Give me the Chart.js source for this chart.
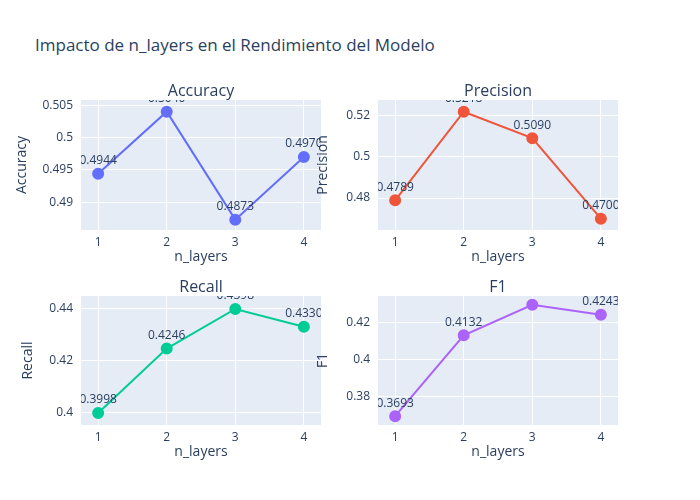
<!DOCTYPE html>
<html>
<head>
<meta charset="utf-8">
<script src="https://cdn.jsdelivr.net/npm/chart.js@4"></script>
<style>
  body { margin: 0; background: #fff; }
  #wrap { position: relative; width: 700px; height: 500px; }
  #wrap canvas { position: absolute; left: 0; top: 0; }
  #title { position: absolute; left: 35px; top: 33px; font: 17px "Open Sans", sans-serif; color: #2a3f5f; }
</style>
</head>
<body>
<div id="wrap">
  <div id="title">Impacto de n_layers en el Rendimiento del Modelo</div>
  <canvas id="c0" width="700" height="500"></canvas>
  <canvas id="c1" width="700" height="500"></canvas>
  <canvas id="c2" width="700" height="500"></canvas>
  <canvas id="c3" width="700" height="500"></canvas>
</div>
<script>
const layers = [1, 2, 3, 4];
const accuracy = [0.4944, 0.5040, 0.4873, 0.4970];
const precision = [0.4789, 0.5218, 0.5090, 0.4700];
const recall = [0.3998, 0.4246, 0.4398, 0.4330];
const f1 = [0.3693, 0.4132, 0.4297, 0.4243];

const panels = [
    { id: 'c0', name: 'Accuracy', data: accuracy, color: '#636efa', box: [81, 100, 321, 230], y: [0.4857, 0.5058], step: 0.005, yTitleX: 22 },
    { id: 'c1', name: 'Precision', data: precision, color: '#EF553B', box: [378, 100, 618, 230], y: [0.4645, 0.5275], step: 0.02, yTitleX: 323 },
    { id: 'c2', name: 'Recall', data: recall, color: '#00cc96', box: [81, 296, 321, 425], y: [0.3952, 0.4448], step: 0.02, yTitleX: 28 },
    { id: 'c3', name: 'F1', data: f1, color: '#ab63fa', box: [378, 296, 618, 425], y: [0.3645, 0.4345], step: 0.02, yTitleX: 323 }
];

const font = '"Open Sans", sans-serif';
const textColor = '#2a3f5f';

const decorPlugin = {
    id: 'decor',
    beforeDraw(chart) {
        const { ctx, chartArea: a } = chart;
        ctx.save();
        ctx.fillStyle = '#E5ECF6';
        ctx.fillRect(a.left, a.top, a.right - a.left, a.bottom - a.top);
        ctx.restore();
    },
    afterDraw(chart, args, opts) {
        const { ctx, chartArea: a, scales } = chart;
        const meta = chart.getDatasetMeta(0);
        ctx.save();
        // point labels, clipped to plot area like plotly
        ctx.beginPath();
        ctx.rect(a.left, a.top, a.right - a.left, a.bottom - a.top);
        ctx.clip();
        ctx.fillStyle = textColor;
        ctx.font = '12px ' + font;
        ctx.textAlign = 'center';
        ctx.textBaseline = 'bottom';
        meta.data.forEach((pt, i) => {
            ctx.fillText(opts.values[i].toFixed(4), pt.x, pt.y - 7);
        });
        ctx.restore();

        ctx.save();
        ctx.fillStyle = textColor;
        ctx.font = '12px ' + font;
        // tick labels
        ctx.textAlign = 'right';
        ctx.textBaseline = 'middle';
        scales.y.ticks.forEach(t => {
            ctx.fillText(String(+t.value.toFixed(4)), a.left - 8, scales.y.getPixelForValue(t.value));
        });
        ctx.textAlign = 'center';
        ctx.textBaseline = 'top';
        scales.x.ticks.forEach(t => {
            ctx.fillText(String(t.value), scales.x.getPixelForValue(t.value), a.bottom + 7);
        });
        ctx.textBaseline = 'alphabetic';
        ctx.font = '16px ' + font;
        ctx.fillText(opts.name, (a.left + a.right) / 2, a.top - 4);
        ctx.font = '14px ' + font;
        ctx.fillText('n_layers', (a.left + a.right) / 2, a.bottom + 31);
        ctx.translate(opts.yTitleX, (a.top + a.bottom) / 2);
        ctx.rotate(-Math.PI / 2);
        ctx.textBaseline = 'middle';
        ctx.fillText(opts.name, 0, 0);
        ctx.restore();
    }
};

panels.forEach(p => {
    const [l, t, r, b] = p.box;
    new Chart(document.getElementById(p.id), {
        type: 'line',
        data: {
            datasets: [{
                data: layers.map((x, i) => ({ x: x, y: p.data[i] })),
                borderColor: p.color,
                backgroundColor: p.color,
                borderWidth: 2,
                pointRadius: 5,
                pointHoverRadius: 5,
                tension: 0
            }]
        },
        options: {
            responsive: false,
            animation: false,
            events: [],
            layout: { padding: { left: l, top: t, right: 700 - r, bottom: 500 - b } },
            plugins: {
                legend: { display: false },
                tooltip: { enabled: false },
                decor: { name: p.name, values: p.data, yTitleX: p.yTitleX }
            },
            scales: {
                x: {
                    type: 'linear',
                    min: 0.75, max: 4.25,
                    afterFit: s => { s.height = 0; },
                    afterBuildTicks: s => { s.ticks = layers.map(v => ({ value: v })); },
                    grid: { color: '#fff', lineWidth: 1, drawTicks: false },
                    border: { display: false },
                    ticks: { display: false }
                },
                y: {
                    min: p.y[0], max: p.y[1],
                    afterFit: s => { s.width = 0; },
                    afterBuildTicks: s => {
                        const ticks = [];
                        const start = Math.ceil(p.y[0] / p.step - 1e-9);
                        for (let k = start; k * p.step <= p.y[1]; k++) ticks.push({ value: +(k * p.step).toFixed(4) });
                        s.ticks = ticks;
                    },
                    grid: { color: '#fff', lineWidth: 1, drawTicks: false },
                    border: { display: false },
                    ticks: { display: false }
                }
            }
        },
        plugins: [decorPlugin]
    });
});
</script>
</body>
</html>
